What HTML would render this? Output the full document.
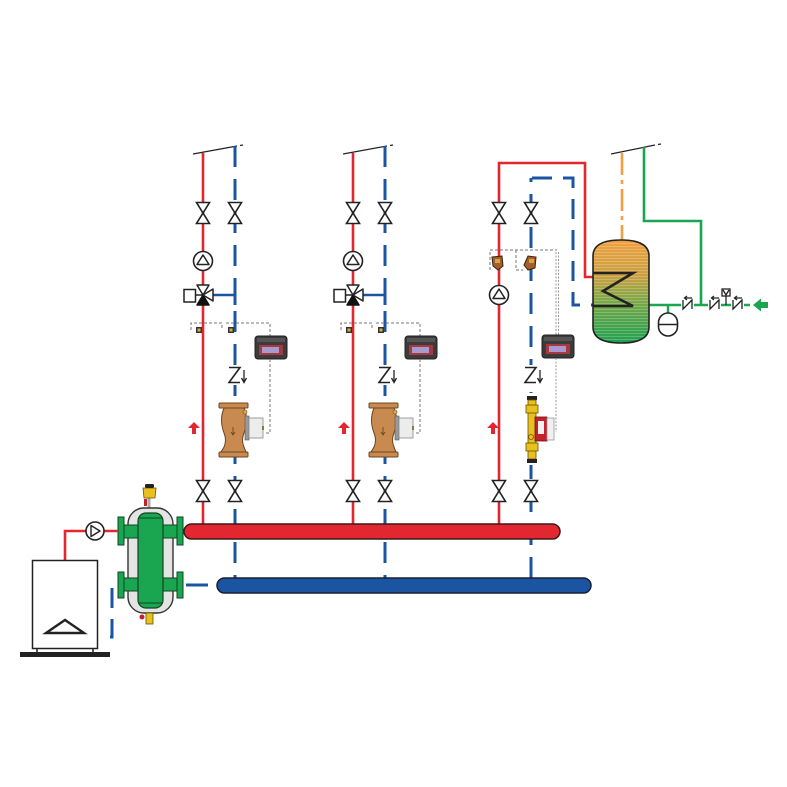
<!DOCTYPE html>
<html>
<head>
<meta charset="utf-8">
<style>
  html,body{margin:0;padding:0;background:#fff;}
  svg{display:block;}
</style>
</head>
<body>
<svg width="787" height="787" viewBox="0 0 787 787" xmlns="http://www.w3.org/2000/svg">
  <defs>
    <linearGradient id="tankg" x1="0" y1="0" x2="0" y2="1">
      <stop offset="0" stop-color="#f0a040"/>
      <stop offset="0.35" stop-color="#c8a040"/>
      <stop offset="0.6" stop-color="#7aa848"/>
      <stop offset="1" stop-color="#1fa050"/>
    </linearGradient>
    <pattern id="stripes" width="6" height="3" patternUnits="userSpaceOnUse">
      <rect x="0" y="0" width="6" height="1" fill="#ffffff" fill-opacity="0.22"/>
    </pattern>
    <clipPath id="tankclip">
      <path d="M593,256 Q593,240 621,240 Q649,240 649,256 V327 Q649,343 621,343 Q593,343 593,327 Z"/>
    </clipPath>
    <g id="valve">
      <path d="M-6.5,-10.5 H6.5 L-6.5,10.5 H6.5 Z" fill="#fff" stroke="#222" stroke-width="1.6" stroke-linejoin="miter"/>
    </g>
    <g id="pumpU">
      <circle cx="0" cy="0" r="9.5" fill="#fff" stroke="#222" stroke-width="1.6"/>
      <path d="M-6,3.5 H6 L0,-6 Z" fill="#fff" stroke="#222" stroke-width="1.5" stroke-linejoin="round"/>
    </g>
    <g id="check">
      <rect x="-9" y="-10" width="22" height="20" fill="#fff"/>
      <path d="M-6,-7.5 H5 L-6,7.5 H5" fill="none" stroke="#222" stroke-width="1.6"/>
      <path d="M9,-5 V6" stroke="#222" stroke-width="1.3"/>
      <path d="M6.5,3 L9,7.5 L11.5,3" fill="none" stroke="#222" stroke-width="1.3"/>
    </g>
    <g id="ctrl">
      <rect x="0" y="0" width="32" height="23" rx="3" fill="#3b3b3b" stroke="#222" stroke-width="1"/>
      <rect x="2" y="2" width="28" height="4" fill="#555"/>
      <rect x="4" y="9" width="24" height="10" fill="#a8383c"/>
      <rect x="7" y="11" width="17" height="6" fill="#a79ad0"/>
    </g>
    <g id="redarrow">
      <path d="M0,-6 L6,0 H2 V6 H-2 V0 H-6 Z" fill="#e32730"/>
    </g>
  </defs>

  <!-- ============ CIRCUIT 1 (and copy for circuit 2) ============ -->
  <g id="circ">
    <!-- break line -->
    <path d="M193,154 L237,146" stroke="#222" stroke-width="1.2"/>
    <path d="M240,145.5 L243,145" stroke="#222" stroke-width="1.2"/>
    <!-- red supply -->
    <path d="M203,153 V524" stroke="#e32730" stroke-width="2.6" fill="none"/>
    <!-- blue return dashed -->
    <path d="M235,146 V578" stroke="#1b54a0" stroke-width="3" fill="none" stroke-dasharray="21 12"/>
    <!-- valves -->
    <use href="#valve" x="203" y="213"/>
    <use href="#valve" x="235" y="213"/>
    <use href="#valve" x="203" y="491"/>
    <use href="#valve" x="235" y="491"/>
    <!-- pump -->
    <use href="#pumpU" x="203" y="261"/>
    <!-- 3-way valve -->
    <path d="M213,295 H235" stroke="#1b54a0" stroke-width="2.6"/>
    <path d="M235,285 V305" stroke="#1b54a0" stroke-width="3"/>
    <rect x="184" y="289.5" width="11.5" height="12.5" fill="#fff" stroke="#222" stroke-width="1.5"/>
    <path d="M196,295 H203" stroke="#222" stroke-width="1.5"/>
    <path d="M197,285 H209 L203,295 Z" fill="#fff" stroke="#222" stroke-width="1.5" stroke-linejoin="round"/>
    <path d="M197,305 H209 L203,295 Z" fill="#111" stroke="#111" stroke-width="1.5" stroke-linejoin="round"/>
    <path d="M213,289 V301 L203,295 Z" fill="#fff" stroke="#222" stroke-width="1.5" stroke-linejoin="round"/>
    <!-- sensor dashed wiring -->
    <path d="M191,330 V323 H222 V330 M226,323 H270 V336" fill="none" stroke="#777" stroke-width="1" stroke-dasharray="3 2"/>
    <rect x="196" y="327" width="6" height="6" fill="#333"/>
    <rect x="197.5" y="328.5" width="3" height="3" fill="#d8b040"/>
    <rect x="228" y="327" width="6" height="6" fill="#333"/>
    <rect x="229.5" y="328.5" width="3" height="3" fill="#d8b040"/>
    <!-- controller -->
    <use href="#ctrl" x="255" y="336"/>
    <path d="M270,359 V433 H264" fill="none" stroke="#777" stroke-width="1" stroke-dasharray="3 2"/>
    <!-- check valve -->
    <use href="#check" x="235" y="375"/>
    <!-- balancing valve -->
    <rect x="227" y="396" width="16" height="8" fill="#fff"/>
    <path d="M224,408 H244 Q249,420 244,433 Q241,440 244,447 L246,452 H221 L224,447 Q227,440 224,433 Q219,420 224,408 Z" fill="#c98a50" stroke="#6e4420" stroke-width="1"/>
    <rect x="219" y="403" width="29" height="5" rx="1" fill="#c98a50" stroke="#6e4420" stroke-width="1"/>
    <rect x="219" y="452" width="29" height="5" rx="1" fill="#c98a50" stroke="#6e4420" stroke-width="1"/>
    <circle cx="245" cy="412" r="2" fill="#d8b040" stroke="#6e4420" stroke-width="0.6"/>
    <path d="M233,427 V435 M231,432 L233,435 L235,432" stroke="#6e4420" stroke-width="0.9" fill="none"/>
    <rect x="245" y="416" width="4" height="24" fill="#999" stroke="#555" stroke-width="0.6"/>
    <rect x="249" y="418" width="14" height="20" fill="#ececec" stroke="#888" stroke-width="0.8"/>
    <rect x="262" y="426" width="2" height="4" fill="#8a7a3a"/>
    <!-- red arrow -->
    <use href="#redarrow" x="194" y="428"/>
  </g>
  <use href="#circ" x="150" y="0"/>

  <!-- ============ CIRCUIT 3 ============ -->
  <!-- red -->
  <path d="M499,524 V163 H585 V277 H595" fill="none" stroke="#e32730" stroke-width="2.6"/>
  <!-- blue -->
  <path d="M531,578 V178" fill="none" stroke="#1b54a0" stroke-width="3" stroke-dasharray="21 12"/>
  <path d="M532,178 H573 V305 H595" fill="none" stroke="#1b54a0" stroke-width="3" stroke-dasharray="20 11"/>
  <use href="#valve" x="499" y="213"/>
  <use href="#valve" x="531" y="213"/>
  <use href="#valve" x="499" y="491"/>
  <use href="#valve" x="531" y="491"/>
  <use href="#pumpU" x="499" y="295"/>
  <!-- sensor wiring -->
  <path d="M490,270 V250 H557 M516,250 V270 H523" fill="none" stroke="#777" stroke-width="1" stroke-dasharray="3 2"/>
  <path d="M556,252 V335 M558.5,252 V335" fill="none" stroke="#999" stroke-width="1" stroke-dasharray="2 1.5"/>
  <!-- thermostatic small valves -->
  <path d="M492,257 L502,256 L503,266 L498,270 L493,266 Z" fill="#a0602a" stroke="#3a2210" stroke-width="1"/>
  <rect x="495" y="259" width="5" height="4" fill="#e0a040"/>
  <path d="M524,265 L528,256 L536,257 L535,268 L528,270 Z" fill="#a0602a" stroke="#3a2210" stroke-width="1"/>
  <rect x="529" y="259" width="5" height="4" fill="#e0a040"/>
  <!-- controller -->
  <use href="#ctrl" x="542" y="335"/>
  <path d="M556,358 V432" fill="none" stroke="#999" stroke-width="1" stroke-dasharray="2 1.5"/>
  <use href="#check" x="531" y="375"/>
  <!-- brass flow meter -->
  <rect x="525" y="393" width="14" height="72" fill="#fff"/>
  <rect x="527" y="396" width="10" height="4" fill="#222"/>
  <rect x="528" y="400" width="8" height="59" fill="#e8c020" stroke="#6a5200" stroke-width="0.8"/>
  <rect x="526" y="405" width="12" height="8" fill="#e8c020" stroke="#6a5200" stroke-width="0.8"/>
  <rect x="526" y="443" width="12" height="8" fill="#e8c020" stroke="#6a5200" stroke-width="0.8"/>
  <circle cx="531" cy="437" r="2.5" fill="#e8c020" stroke="#6a5200" stroke-width="0.8"/>
  <rect x="527" y="459" width="10" height="4" fill="#222"/>
  <rect x="535" y="417" width="12" height="24" fill="#c4222a" stroke="#6a1010" stroke-width="0.8"/>
  <rect x="538" y="421" width="6" height="13" fill="#f0f0f0"/>
  <rect x="547" y="418" width="7" height="22" fill="#f0f0f0" stroke="#999" stroke-width="0.8"/>
  <use href="#redarrow" x="493" y="428"/>

  <!-- ============ TANK & DHW ============ -->
  <path d="M611,154 L655,145" stroke="#222" stroke-width="1.2"/>
  <path d="M658,144.5 L661,144" stroke="#222" stroke-width="1.2"/>
  <path d="M622,153 V240" stroke="#f0a040" stroke-width="2.6" stroke-dasharray="22 5 4 5"/>
  <path d="M644,147 V221 H701 V305" fill="none" stroke="#1aa650" stroke-width="2.6"/>
  <path d="M649,305 H750" stroke="#1aa650" stroke-width="2.6"/>
  <path d="M753,305 L761,298.5 V302 H768 V308 H761 V311.5 Z" fill="#1aa650"/>
  <!-- tank -->
  <path d="M593,256 Q593,240 621,240 Q649,240 649,256 V327 Q649,343 621,343 Q593,343 593,327 Z" fill="url(#tankg)"/>
  <rect x="590" y="238" width="62" height="108" fill="url(#stripes)" clip-path="url(#tankclip)"/>
  <path d="M593,256 Q593,240 621,240 Q649,240 649,256 V327 Q649,343 621,343 Q593,343 593,327 Z" fill="none" stroke="#222" stroke-width="1.6"/>
  <path d="M593,273 H633 L603,291 L633,306 H593" fill="none" stroke="#222" stroke-width="2.6" stroke-linejoin="miter"/>
  <!-- expansion vessel -->
  <path d="M668,305 V313" stroke="#1aa650" stroke-width="2.4"/>
  <rect x="658.5" y="313" width="19" height="23" rx="9.5" fill="#fff" stroke="#222" stroke-width="1.6"/>
  <path d="M659,324.5 H677" stroke="#222" stroke-width="1.4"/>
  <!-- check valves on cold line -->
  <g stroke="#222" stroke-width="1.3" fill="none">
    <rect x="681" y="297" width="13" height="12" fill="#fff" stroke="none"/>
    <path d="M683,300 V309 L692,300 V309"/>
    <path d="M692,298 H685 M687,296 L684.5,298 L687,300"/>
    <rect x="708" y="297" width="13" height="12" fill="#fff" stroke="none"/>
    <path d="M710,300 V309 L719,300 V309"/>
    <path d="M719,298 H712 M714,296 L711.5,298 L714,300"/>
    <rect x="731" y="297" width="13" height="12" fill="#fff" stroke="none"/>
    <path d="M733,300 V309 L742,300 V309"/>
    <path d="M742,298 H735 M737,296 L734.5,298 L737,300"/>
    <path d="M726,296 V305"/>
    <rect x="722" y="289" width="8" height="7" fill="#fff"/>
    <path d="M723,290 L726,295 L729,290"/>
  </g>

  <!-- ============ HEADERS ============ -->
  <rect x="184" y="524" width="376" height="15" rx="7.5" fill="#e32730" stroke="#3a1a1a" stroke-width="1.5"/>
  <rect x="217" y="578" width="374" height="15" rx="7.5" fill="#1b54a0" stroke="#1a2030" stroke-width="1.5"/>
  <path d="M186,585 H208" stroke="#1b54a0" stroke-width="3"/>

  <!-- ============ HYDRAULIC SEPARATOR ============ -->
  <path d="M149,498 V515" stroke="#aaa" stroke-width="3"/>
  <rect x="128" y="508" width="45" height="105" rx="16" fill="#e4e4e4" stroke="#333" stroke-width="1.4"/>
  <!-- nozzles -->
  <rect x="122" y="525" width="18" height="13" fill="#1aa650" stroke="#114422" stroke-width="1"/>
  <rect x="160" y="525" width="18" height="13" fill="#1aa650" stroke="#114422" stroke-width="1"/>
  <rect x="122" y="578" width="18" height="13" fill="#1aa650" stroke="#114422" stroke-width="1"/>
  <rect x="160" y="578" width="18" height="13" fill="#1aa650" stroke="#114422" stroke-width="1"/>
  <rect x="118" y="517" width="6" height="28" fill="#1aa650" stroke="#114422" stroke-width="1"/>
  <rect x="177" y="517" width="6" height="28" fill="#1aa650" stroke="#114422" stroke-width="1"/>
  <rect x="118" y="572" width="6" height="26" fill="#1aa650" stroke="#114422" stroke-width="1"/>
  <rect x="177" y="572" width="6" height="26" fill="#1aa650" stroke="#114422" stroke-width="1"/>
  <!-- body -->
  <rect x="138" y="513" width="25" height="95" rx="8" fill="#1aa650" stroke="#114422" stroke-width="1.2"/>
  <path d="M139,518 H162 M139,603 H162" stroke="#114422" stroke-width="1"/>
  <!-- air vent -->
  <path d="M143,488 H156 L155,498 H144 Z" fill="#e8c020" stroke="#6a5200" stroke-width="0.8"/>
  <rect x="145" y="484" width="9" height="4" rx="1.5" fill="#222"/>
  <rect x="144" y="499" width="3" height="7" fill="#c4222a"/>
  <!-- drain -->
  <rect x="146" y="613" width="7" height="11" fill="#e8c020" stroke="#6a5200" stroke-width="0.8"/>
  <circle cx="142" cy="617" r="2.5" fill="#c4222a"/>

  <!-- ============ BOILER ============ -->
  <path d="M65,560 V531 H118" fill="none" stroke="#e32730" stroke-width="2.6"/>
  <circle cx="95" cy="531" r="9" fill="#fff" stroke="#222" stroke-width="1.6"/>
  <path d="M91,525.5 V536.5 L100,531 Z" fill="#fff" stroke="#222" stroke-width="1.4" stroke-linejoin="round"/>
  <rect x="32.5" y="560.5" width="65" height="88" fill="#fff" stroke="#222" stroke-width="1.5"/>
  <path d="M37,649 V652 M93,649 V652" stroke="#222" stroke-width="1.5"/>
  <rect x="20" y="652" width="90" height="5" fill="#222"/>
  <path d="M46,633 L65,620 L84,633 Z" fill="none" stroke="#222" stroke-width="2.4" stroke-linejoin="miter"/>
  <path d="M112,588 V637 H105" fill="none" stroke="#1b54a0" stroke-width="3" stroke-dasharray="20 11"/>
</svg>
</body>
</html>
